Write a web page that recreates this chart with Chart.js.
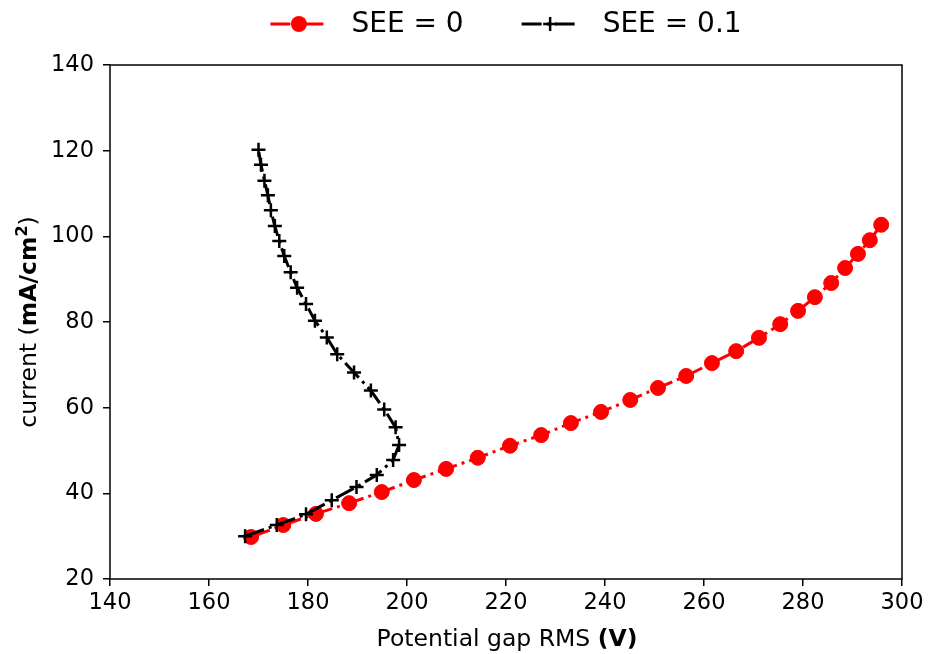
<!DOCTYPE html>
<html lang="en">
<head>
<meta charset="UTF-8">
<title>current vs potential gap RMS</title>
<script src="https://cdn.jsdelivr.net/npm/chart.js"></script>
<style>
  html, body { margin: 0; padding: 0; background: #ffffff; }
</style>
</head>
<body>
<canvas id="chartGap" width="929" height="654"></canvas>
<script>
    // SEE = 0 (red circles)
    const gapSee0 = [168.5, 175.0, 181.6, 188.3, 194.9, 201.4, 207.9, 214.3, 220.8, 227.1, 233.1, 239.2, 245.1,
        250.7, 256.4, 261.6, 266.5, 271.1, 275.4, 279.0, 282.4, 285.7, 288.5, 291.1, 293.5, 295.8];
    const currentSee0 = [29.8, 32.6, 35.2, 37.7, 40.3, 43.1, 45.7, 48.3, 51.1, 53.6, 56.4, 59.0, 61.8,
        64.6, 67.4, 70.4, 73.2, 76.3, 79.5, 82.6, 85.8, 89.1, 92.6, 95.9, 99.1, 102.7];

    // SEE = 0.1 (black crosses)
    const gapSee01 = [167.3, 173.7, 179.6, 184.8, 189.8, 193.9, 197.2, 198.4, 197.7, 195.4, 192.7, 189.3, 185.9,
        183.8, 181.4, 179.6, 177.8, 176.5, 175.2, 174.2, 173.3, 172.5, 171.9, 171.2, 170.5, 170.0];
    const currentSee01 = [30.0, 32.6, 35.1, 38.4, 41.5, 44.3, 47.8, 51.3, 55.4, 59.6, 64.0, 68.2, 72.5,
        76.4, 80.3, 84.2, 88.0, 91.6, 95.4, 98.9, 102.4, 106.1, 109.6, 113.0, 116.7, 120.2];

    const seriesNames = ['SEE = 0', 'SEE = 0.1'];
    const xTicks = [140, 160, 180, 200, 220, 240, 260, 280, 300];
    const yTicks = [20, 40, 60, 80, 100, 120, 140];

    const FONT = "'DejaVu Sans', 'Liberation Sans', sans-serif";
    const DASH = [20, 5, 3, 5]; // tracejado tipo "-." do matplotlib
    const RED = 'rgb(255, 0, 0)';
    const BLACK = 'rgb(0, 0, 0)';

    const toPoints = (xs, ys) => xs.map((x, i) => ({ x: x, y: ys[i] }));

    // desenha um texto com partes normais / negrito / expoente, centrado em (cx, baseline)
    function drawParts(ctx, parts, cx, baseline) {
        const fontOf = p => (p.bold ? 'bold ' : '') + p.size + 'px ' + FONT;
        let total = 0;
        parts.forEach(p => { ctx.font = fontOf(p); total += ctx.measureText(p.text).width; });
        let x = cx - total / 2;
        ctx.textAlign = 'left';
        ctx.textBaseline = 'alphabetic';
        parts.forEach(p => {
            ctx.font = fontOf(p);
            ctx.fillText(p.text, x, baseline - (p.raise || 0));
            x += ctx.measureText(p.text).width;
        });
    }

    function drawHandle(ctx, x0, y, w, color, style) {
        ctx.save();
        ctx.strokeStyle = color;
        ctx.lineWidth = 3;
        ctx.setLineDash(DASH);
        ctx.beginPath();
        ctx.moveTo(x0, y);
        ctx.lineTo(x0 + w, y);
        ctx.stroke();
        ctx.setLineDash([]);
        const mx = x0 + w / 2;
        if (style === 'circle') {
            ctx.fillStyle = color;
            ctx.beginPath();
            ctx.arc(mx, y, 8, 0, Math.PI * 2);
            ctx.fill();
        } else {
            ctx.lineWidth = 2.5;
            ctx.beginPath();
            ctx.moveTo(mx - 7, y); ctx.lineTo(mx + 7, y);
            ctx.moveTo(mx, y - 7); ctx.lineTo(mx, y + 7);
            ctx.stroke();
        }
        ctx.restore();
    }

    // moldura, titulos dos eixos e legenda (estilo matplotlib)
    const extras = {
        id: 'extras',
        afterDraw(chart) {
            const ctx = chart.ctx;
            const a = chart.chartArea;
            ctx.save();

            // moldura
            ctx.strokeStyle = BLACK;
            ctx.lineWidth = 1.5;
            ctx.strokeRect(a.left, a.top, a.right - a.left, a.bottom - a.top);

            ctx.fillStyle = BLACK;
            const cx = (a.left + a.right) / 2;

            // titulo do eixo x
            drawParts(ctx, [
                { text: 'Potential gap RMS ', size: 23.5 },
                { text: '(V)', size: 23.5, bold: true }
            ], cx + 1, 646);

            // titulo do eixo y (rotacionado)
            ctx.save();
            ctx.translate(36, (a.top + a.bottom) / 2);
            ctx.rotate(-Math.PI / 2);
            drawParts(ctx, [
                { text: 'current (', size: 23.5 },
                { text: 'mA/cm', size: 23.5, bold: true },
                { text: '2', size: 16, bold: true, raise: 9 },
                { text: ')', size: 23.5 }
            ], 0, 0);
            ctx.restore();

            // legenda
            const handleW = 57, gapText = 24, gapItem = 58, ly = 24;
            ctx.font = '28px ' + FONT;
            const w0 = ctx.measureText(seriesNames[0]).width;
            const w1 = ctx.measureText(seriesNames[1]).width;
            const total = handleW + gapText + w0 + gapItem + handleW + gapText + w1;
            let x = cx - total / 2;
            drawHandle(ctx, x, ly, handleW, RED, 'circle');
            x += handleW + gapText;
            ctx.fillStyle = BLACK;
            ctx.textAlign = 'left';
            ctx.textBaseline = 'middle';
            ctx.fillText(seriesNames[0], x, ly + 1);
            x += w0 + gapItem;
            drawHandle(ctx, x, ly, handleW, BLACK, 'cross');
            x += handleW + gapText;
            ctx.fillStyle = BLACK;
            ctx.font = '28px ' + FONT;
            ctx.textBaseline = 'middle';
            ctx.fillText(seriesNames[1], x, ly + 1);

            ctx.restore();
        }
    };

    const ctx = document.getElementById('chartGap').getContext('2d');
    const chartGap = new Chart(ctx, {
        type: 'scatter',
        data: {
            datasets: [{
                label: seriesNames[0],
                data: toPoints(gapSee0, currentSee0),
                showLine: true,
                borderColor: RED,
                borderWidth: 3,
                borderDash: DASH,
                pointStyle: 'circle',
                pointRadius: 7.5,
                pointBackgroundColor: RED,
                pointBorderColor: RED,
                pointBorderWidth: 1,
                order: 1
            }, {
                label: seriesNames[1],
                data: toPoints(gapSee01, currentSee01),
                showLine: true,
                borderColor: BLACK,
                borderWidth: 3,
                borderDash: DASH,
                pointStyle: 'cross',
                pointRadius: 7,
                pointBorderColor: BLACK,
                pointBorderWidth: 2.5,
                order: 0
            }]
        },
        options: {
            responsive: false,
            animation: false,
            layout: {
                padding: { top: 65, right: 27, left: 0, bottom: 0 }
            },
            plugins: {
                legend: { display: false },
                tooltip: { enabled: false }
            },
            scales: {
                x: {
                    type: 'linear',
                    min: xTicks[0],
                    max: xTicks[xTicks.length - 1],
                    afterFit: s => { s.height = 75; },
                    ticks: {
                        stepSize: xTicks[1] - xTicks[0],
                        color: BLACK,
                        padding: 4,
                        maxRotation: 0,
                        font: { family: FONT, size: 22.5 }
                    },
                    grid: {
                        drawOnChartArea: false,
                        tickLength: 7,
                        color: BLACK,
                        lineWidth: 1.5
                    },
                    border: { display: false }
                },
                y: {
                    type: 'linear',
                    min: yTicks[0],
                    max: yTicks[yTicks.length - 1],
                    afterFit: s => { s.width = 110; },
                    ticks: {
                        stepSize: yTicks[1] - yTicks[0],
                        color: BLACK,
                        padding: 9,
                        font: { family: FONT, size: 22.5 }
                    },
                    grid: {
                        drawOnChartArea: false,
                        tickLength: 7,
                        color: BLACK,
                        lineWidth: 1.5
                    },
                    border: { display: false }
                }
            }
        },
        plugins: [extras]
    });
</script>
</body>
</html>
